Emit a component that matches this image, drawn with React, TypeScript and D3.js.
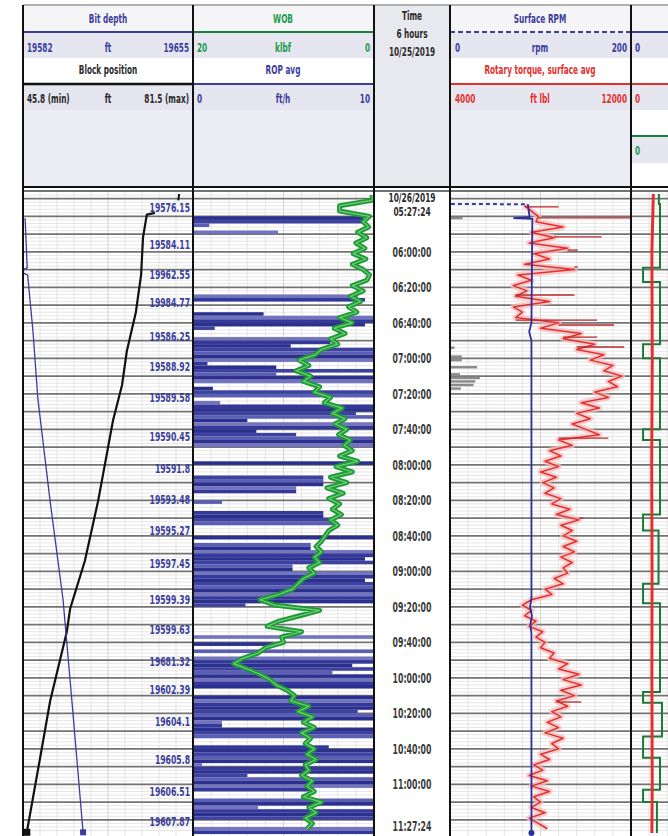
import React from "react";
import * as d3 from "d3";

const START = "05:27:24";
const END = "11:27:24";

const timeTicks = [
  "06:00:00", "06:20:00", "06:40:00", "07:00:00", "07:20:00", "07:40:00",
  "08:00:00", "08:20:00", "08:40:00", "09:00:00", "09:20:00", "09:40:00",
  "10:00:00", "10:20:00", "10:40:00", "11:00:00",
];

// Bit depth (ft), blue trace in track 1
const bitDepthTimes = ["05:41", "06:09", "06:10", "06:12", "06:13", "06:45", "07:23", "08:20", "09:16", "10:13", "11:27"];
const bitDepthFt = [19582.9, 19583.8, 19582.2, 19582.2, 19584.0, 19586.3, 19588.4, 19593.6, 19599.2, 19603.0, 19607.8];

// Block position (ft), black trace in track 1
const blockTopTimes = ["05:27:24", "05:31"];
const blockTopFt = [78.6, 78.4];
const blockTimes = ["05:38", "05:39", "05:52", "06:13", "06:34", "06:56", "07:15", "07:35", "08:20", "08:54", "09:21", "09:34", "10:13", "10:45", "11:27"];
const blockFt = [73.5, 71.8, 71.0, 70.6, 69.5, 67.6, 66.6, 64.7, 61.6, 58.8, 55.7, 55.0, 51.5, 49.4, 46.6];

// depth annotations on the right of track 1
const depthLabelTimes = [
  "05:35", "05:56", "06:13", "06:29", "06:48", "07:05", "07:22", "07:44", "08:02", "08:20",
  "08:37", "08:56", "09:16", "09:33", "09:51", "10:07", "10:25", "10:46", "11:04", "11:21",
];
const depthLabels = [
  "19576.15", "19584.11", "19962.55", "19984.77", "19586.25", "19588.92", "19589.58", "19590.45", "19591.8", "19593.48",
  "19595.27", "19597.45", "19599.39", "19599.63", "19681.32", "19602.39", "19604.1", "19605.8", "19606.51", "19607.87",
];

// ROP avg (ft/h), 2-minute bins from 05:28
const ROP_START = "05:28";
const ROP_STEP = 2;
const ropFtH = [
  0, 0, 0, 0, 0, 0,
  9.4, 9.4, 0.9, 0, 4.7, 0,
  0, 0, 0, 0, 0, 0, 0, 0, 0, 0, 0, 0, 0, 0, 0, 0,
  9.1, 9.5, 0, 0, 0, 3.9,
  10, 10, 9.5, 1.2, 0, 0,
  7.6, 7.6, 5.4, 10, 10, 10, 10, 0.8,
  4.6, 10, 4.6, 10, 10, 0, 1.1, 10, 10,
  0, 1.5, 10, 10, 9, 10, 3, 10, 10, 3.5,
  5.7, 10, 10, 10, 0, 0, 0, 0,
  10, 0, 0, 0, 7.2, 7.2, 7.2, 5.7, 5.7,
  0, 0, 1.6, 0, 0, 7.2, 7.2, 7.8, 8,
  0, 0, 0, 10, 0, 6.5, 6.5, 10, 10, 9.5, 10, 5.5, 5.5,
  10, 10, 9.5, 10, 10, 10, 10, 10, 10, 2.9,
  0, 0, 0, 0, 0, 0, 0, 0,
  10, 0, 4.4, 0, 10, 0, 10, 10,
  8.8, 10, 7.7, 10, 10, 10, 10, 0, 0,
  10, 10, 10, 10, 9.1, 10, 10, 1.6, 1.6,
  10, 10, 10, 0, 0, 7.5, 10, 10, 10, 10,
  0.5, 10, 10, 3, 10, 10, 10, 6.5, 0, 0,
  10, 10, 3.6, 10, 10, 10, 0, 0, 10, 10,
];

// WOB (klbf), 3-minute samples from 05:28
const WOB_START = "05:28";
const WOB_STEP = 3;
const wobKlbf = [
  0.2, 0.2, 3.8, 3.8, 0.5, 1.2, 0.6, 1.8, 0.8, 2.0, 1.0, 2.3, 0.9, 2.4, 1.2, 0.5,
  0.8, 2.4, 1.2, 2.6, 1.5, 2.8, 1.9, 3.8, 2.4, 4.4, 3.2, 4.8, 4.0, 5.8, 6.5, 8.3,
  7.2, 8.6, 7.0, 7.8, 6.0, 6.6, 4.8, 5.5, 3.5, 4.6, 3.2, 4.3, 3.0, 3.9, 2.6, 3.3,
  2.4, 3.8, 1.8, 4.2, 2.4, 4.8, 3.0, 5.2, 3.4, 5.0, 3.8, 4.6, 3.6, 4.8, 4.0, 5.0,
  5.4, 5.8, 6.4, 5.8, 6.6, 6.0, 7.2, 6.6, 7.8, 8.4, 9.0, 10.5, 12.6, 11.0, 6.0, 8.2,
  10.5, 11.8, 8.0, 10.2, 10.0, 12.0, 12.8, 14.5, 15.5, 14.0, 12.6, 11.5, 10.8, 9.6, 8.8, 9.2,
  7.2, 8.4, 6.8, 7.8, 6.6, 8.0, 7.0, 7.6, 6.6, 7.4, 6.4, 7.6, 7.2, 8.0, 6.8, 7.4,
  6.6, 7.8, 5.8, 7.2, 6.4, 7.6, 6.8, 7.4,
];

// Rotary torque, surface avg (ft lbf), 3-minute samples from 05:34
const TORQUE_START = "05:34";
const TORQUE_STEP = 3;
const torqueFtLbf = [
  7300, 7600, 7900, 7800, 9000, 7600, 8600, 7500, 9200, 7700, 8400, 7300, 9500, 7000, 7600, 6800,
  7400, 6900, 8400, 6800, 7200, 6900, 8800, 8000, 9800, 9000, 10400, 9600, 10800, 10200, 11200, 10800,
  11600, 11000, 11400, 10400, 11000, 9800, 10600, 9600, 10200, 9400, 10000, 10600, 8800, 9400, 8400, 8900,
  8200, 8800, 8000, 8700, 8100, 8600, 8200, 8900, 8500, 9300, 8700, 9700, 8900, 9400, 9000, 9600,
  9000, 9500, 8900, 9400, 9000, 9200, 8600, 9000, 8200, 8500, 7600, 7200, 7600, 7300, 7800, 7500,
  8100, 7800, 8200, 8000, 8600, 8400, 9200, 8800, 9700, 9000, 9800, 8900, 9500, 8700, 9200, 8500,
  8900, 8300, 8800, 8200, 9000, 8500, 8800, 8000, 8400, 7700, 8100, 7500, 8300, 7600, 8400, 7700,
  8000, 7600, 8200, 7500, 7900, 8300,
];
// short torque spikes (thin horizontal flicks)
const torqueSpikeTimes = [
  "05:34:42", "05:40:54", "05:51:36", "05:59:00", "06:08:30", "06:24:18", "06:38:24",
  "06:41:12", "06:48:00", "06:53:36", "07:44:54", "08:30:00", "10:13:36",
];
const torqueSpikes = [8800, 12000, 10700, 9650, 9650, 9500, 10500, 11250, 10500, 11700, 11000, 9900, 9800];

// Surface RPM
const rpmDashTimes = ["05:33:00", "05:33:10"];
const rpmDash = [1, 86];
const rpmTimes = [
  "05:33:10", "05:40:30", "05:41:00", "05:41:20", "06:40", "06:45", "06:50",
  "09:15", "09:20", "09:25", "09:30", "09:35", "11:27:24",
];
const rpmValues = [86, 88, 70, 91, 90, 87.5, 90, 90, 88.5, 90.5, 88.8, 90, 90];

// short grey marks at the left of track 3 (rpm scale)
const auxTimes = ["05:41", "06:54", "06:59", "07:00", "07:01", "07:05", "07:09", "07:11", "07:13", "07:15", "07:17"];
const auxRpm = [14, 5, 13, 12, 13, 30, 11, 33, 28, 26, 12];

// track 4 (cut off on the right), 0-100 scale
const t4RedTimes = ["05:27:24", "06:00", "07:00", "08:00", "09:00", "10:00", "11:00", "11:27:24"];
const t4Red = [12.4, 11.6, 11.8, 11.5, 11.7, 11.6, 11.8, 11.6];
const t4GreenTimes = [
  "05:27:24", "05:33", "06:09", "06:17", "06:52", "07:00", "07:40", "07:46", "08:28", "08:37",
  "09:07", "09:18", "10:08", "10:14", "10:33", "10:45", "11:03", "11:10", "11:27:24",
];
const t4Green = [15.5, 16.1, 6.7, 16.1, 6.7, 16.1, 6.7, 16.1, 6.7, 15.3, 6.7, 16.1, 6.7, 17.2, 6.7, 16.1, 6.7, 14.4, 14.4];

// ---- layout ----------------------------------------------------------------

const W = 668;
const H = 836;
const T1 = [23, 193];
const T2 = [193, 374];
const TC = [374, 450];
const T3 = [450, 631];
const T4 = [631, 811];
const HEAD_TOP = 5;
const HEAD_BOTTOM = 187;
const PLOT_TOP = 191;

const BLUE = "#3a3d9c";
const GREEN = "#1b9a4c";
const RED = "#e3302e";
const DARK = "#2a2a2a";
const LAV = "#e5e6f0";
const LAV2 = "#ecedf4";
const ROP_SHADES = ["#2b2f8e", "#3d42a0", "#5a5fb3", "#2b2f8e", "#7275be", "#34389a"];

const FONT = "'DejaVu Sans Condensed', 'DejaVu Sans', sans-serif";

const parseClock = d3.timeParse("%H:%M:%S");
const pt = (s: string) => parseClock(s.length === 5 ? s + ":00" : s) as Date;

type Pt = { t: Date; v: number };
const series = (times: string[], vals: number[]): Pt[] => times.map((t, i) => ({ t: pt(t), v: vals[i] }));
const sampled = (start: string, step: number, vals: number[]): Pt[] =>
  vals.map((v, i) => ({ t: d3.timeMinute.offset(pt(start), i * step), v }));

const Label = ({ x, y, children, fill = DARK, size = 12, anchor = "middle", sx = 0.68 }: any) => (
  <text
    transform={`translate(${x},${y}) scale(${sx},1)`}
    textAnchor={anchor}
    dominantBaseline="central"
    fill={fill}
    fontSize={size}
    fontWeight="bold"
    fontFamily={FONT}
  >
    {children}
  </text>
);

export default function App() {
  const y = d3.scaleTime().domain([pt(START), pt(END)]).range([194, 833]);

  const xBit = d3.scaleLinear().domain([19582, 19655]).range(T1);
  const xBlock = d3.scaleLinear().domain([45.8, 81.5]).range(T1);
  const xWob = d3.scaleLinear().domain([20, 0]).range(T2);
  const xRop = d3.scaleLinear().domain([0, 10]).range(T2);
  const xRpm = d3.scaleLinear().domain([0, 200]).range(T3);
  const xTq = d3.scaleLinear().domain([4000, 12000]).range(T3);
  const xT4 = d3.scaleLinear().domain([0, 100]).range(T4);

  const lineOf = (sx: d3.ScaleLinear<number, number>, curve: d3.CurveFactory = d3.curveLinear) =>
    d3.line<Pt>().x((d) => sx(d.v)).y((d) => y(d.t)).curve(curve);

  const bit = series(bitDepthTimes, bitDepthFt);
  const block = series(blockTimes, blockFt);
  const blockTop = series(blockTopTimes, blockTopFt);
  const rop = sampled(ROP_START, ROP_STEP, ropFtH);
  const wob = sampled(WOB_START, WOB_STEP, wobKlbf);
  const torque = sampled(TORQUE_START, TORQUE_STEP, torqueFtLbf);
  const spikes = series(torqueSpikeTimes, torqueSpikes);
  const rpm = series(rpmTimes, rpmValues);
  const rpmD = series(rpmDashTimes, rpmDash);
  const aux = series(auxTimes, auxRpm);
  const red4 = series(t4RedTimes, t4Red);
  const green4 = series(t4GreenTimes, t4Green);

  // torque value under each spike, so the flick starts on the trace
  const bisect = d3.bisector((d: Pt) => d.t).center;
  const spikeBase = (t: Date) => torque[bisect(torque, t)].v;

  const majors = d3.timeMinute.every(10)!.range(pt(START), pt(END));
  const minors = d3.timeMinute.every(2)!.range(pt(START), pt(END));
  const gridTracks = [T1, T2, T3, [T4[0], W]];

  const headerTracks = [T1, T2, T3];
  const lastBit = bit[bit.length - 1];
  const lastBlock = block[block.length - 1];
  const lastRpm = rpm[rpm.length - 1];

  return (
    <svg width={W} height={H} style={{ position: "absolute", left: 0, top: 0, background: "#fff" }}>
      <defs>
        <clipPath id="plotClip">
          <rect x={T1[0]} y={PLOT_TOP} width={W - T1[0]} height={H - PLOT_TOP} />
        </clipPath>
      </defs>

      {/* ---------- header ---------- */}
      {headerTracks.map(([a, b], i) => (
        <g key={"hb" + i}>
          <rect x={a} y={HEAD_TOP} width={b - a} height={26} fill="#f5f5f7" />
          <rect x={a} y={33} width={b - a} height={25} fill={LAV} />
          <rect x={a} y={58} width={b - a} height={25} fill="#fff" />
          <rect x={a} y={85} width={b - a} height={25} fill={LAV} />
          <rect x={a} y={110} width={b - a} height={HEAD_BOTTOM - 110} fill={LAV2} />
        </g>
      ))}
      <rect x={TC[0]} y={HEAD_TOP} width={TC[1] - TC[0]} height={HEAD_BOTTOM - HEAD_TOP} fill="#e8e9ef" />
      <rect x={T4[0]} y={HEAD_TOP} width={W - T4[0]} height={26} fill="#f5f5f7" />
      <rect x={T4[0]} y={33} width={W - T4[0]} height={25} fill={LAV} />
      <rect x={T4[0]} y={85} width={W - T4[0]} height={25} fill={LAV} />
      <rect x={T4[0]} y={137} width={W - T4[0]} height={26} fill={LAV} />

      {/* track curve lines in the header */}
      <line x1={T1[0]} x2={T1[1]} y1={32} y2={32} stroke={BLUE} strokeWidth={2} />
      <line x1={T1[0]} x2={T1[1]} y1={84} y2={84} stroke="#111" strokeWidth={2.5} />
      <line x1={T2[0]} x2={T2[1]} y1={32} y2={32} stroke="#1a7f3c" strokeWidth={2} />
      <line x1={T2[0]} x2={T2[1]} y1={84} y2={84} stroke={BLUE} strokeWidth={2} />
      <line x1={T3[0]} x2={T3[1]} y1={32} y2={32} stroke={BLUE} strokeWidth={2} strokeDasharray="5,3" />
      <line x1={T3[0]} x2={T3[1]} y1={84} y2={84} stroke={RED} strokeWidth={2} />
      <line x1={T4[0]} x2={W} y1={32} y2={32} stroke={BLUE} strokeWidth={2} />
      <line x1={T4[0]} x2={W} y1={84} y2={84} stroke={RED} strokeWidth={2} />
      <line x1={T4[0]} x2={W} y1={136} y2={136} stroke="#1a7f3c" strokeWidth={2} />

      {/* header texts */}
      <Label x={108} y={18} fill={BLUE}>Bit depth</Label>
      <Label x={27} y={47} fill={BLUE} anchor="start">19582</Label>
      <Label x={108} y={47} fill={BLUE}>ft</Label>
      <Label x={189} y={47} fill={BLUE} anchor="end">19655</Label>
      <Label x={108} y={69} fill={DARK}>Block position</Label>
      <Label x={27} y={98} fill={DARK} anchor="start">45.8 (min)</Label>
      <Label x={108} y={98} fill={DARK}>ft</Label>
      <Label x={189} y={98} fill={DARK} anchor="end">81.5 (max)</Label>

      <Label x={283} y={18} fill={GREEN}>WOB</Label>
      <Label x={197} y={47} fill={GREEN} anchor="start">20</Label>
      <Label x={283} y={47} fill={GREEN}>klbf</Label>
      <Label x={370} y={47} fill={GREEN} anchor="end">0</Label>
      <Label x={283} y={69} fill={BLUE}>ROP avg</Label>
      <Label x={197} y={98} fill={BLUE} anchor="start">0</Label>
      <Label x={283} y={98} fill={BLUE}>ft/h</Label>
      <Label x={370} y={98} fill={BLUE} anchor="end">10</Label>

      <Label x={412} y={15} fill={DARK}>Time</Label>
      <Label x={412} y={33} fill={DARK}>6 hours</Label>
      <Label x={412} y={51} fill={DARK}>10/25/2019</Label>

      <Label x={540} y={18} fill={BLUE}>Surface RPM</Label>
      <Label x={455} y={47} fill={BLUE} anchor="start">0</Label>
      <Label x={540} y={47} fill={BLUE}>rpm</Label>
      <Label x={627} y={47} fill={BLUE} anchor="end">200</Label>
      <Label x={540} y={69} fill={RED}>Rotary torque, surface avg</Label>
      <Label x={455} y={98} fill={RED} anchor="start">4000</Label>
      <Label x={540} y={98} fill={RED}>ft lbl</Label>
      <Label x={627} y={98} fill={RED} anchor="end">12000</Label>

      <Label x={635} y={47} fill={BLUE} anchor="start">0</Label>
      <Label x={635} y={98} fill={RED} anchor="start">0</Label>
      <Label x={635} y={150} fill={GREEN} anchor="start">0</Label>

      {/* ---------- plot ---------- */}
      <g clipPath="url(#plotClip)">
        {/* grid */}
        {gridTracks.map(([a, b], i) => {
          const step = i === 0 ? (T1[1] - T1[0]) / 10 : (T2[1] - T2[0]) / 10;
          return (
            <g key={"g" + i}>
              {minors.map((t, j) => (
                <line key={j} x1={a} x2={b} y1={y(t)} y2={y(t)} stroke="#e0e0e0" strokeWidth={0.8} />
              ))}
              {d3.range(1, 10).map((k) => {
                const x = a + step * k;
                return x < b ? (
                  <line key={"v" + k} x1={x} x2={x} y1={PLOT_TOP} y2={H} stroke={k === 5 ? "#cfcfcf" : "#e2e2e2"} strokeWidth={0.9} />
                ) : null;
              })}
              {majors.map((t, j) => (
                <line key={"m" + j} x1={a} x2={b} y1={y(t)} y2={y(t)} stroke="#747474" strokeWidth={1.8} />
              ))}
            </g>
          );
        })}

        {/* ROP bars */}
        {rop.map((d, i) => {
          if (d.v <= 0) return null;
          const y0 = y(d.t);
          const y1 = y(d3.timeMinute.offset(d.t, ROP_STEP));
          return (
            <rect key={"r" + i} x={xRop(0)} y={y0} width={xRop(d.v) - xRop(0)} height={y1 - y0}
              fill={ROP_SHADES[i % ROP_SHADES.length]} />
          );
        })}

        {/* WOB */}
        <path d={lineOf(xWob)(wob) ?? ""} fill="none" stroke="#1f9a3b" strokeWidth={5} strokeLinejoin="round" />
        <path d={lineOf(xWob)(wob) ?? ""} fill="none" stroke="#6fd06f" strokeWidth={1.2} strokeLinejoin="round" />

        {/* block position and bit depth */}
        <path d={lineOf(xBlock)(blockTop) ?? ""} fill="none" stroke="#111" strokeWidth={2} />
        <path d={lineOf(xBlock)(block) ?? ""} fill="none" stroke="#111" strokeWidth={2.2} />
        <path d={lineOf(xBit)(bit) ?? ""} fill="none" stroke={BLUE} strokeWidth={1.3} />
        <rect x={xBlock(lastBlock.v) - 3.5} y={y(lastBlock.t) - 3.5} width={7} height={7} fill="#111" />
        <rect x={xBit(lastBit.v) - 3} y={y(lastBit.t) - 3} width={6} height={6} fill={BLUE} />

        {depthLabelTimes.map((t, i) => (
          <Label key={"dl" + i} x={190} y={y(pt(t))} anchor="end" fill={BLUE} size={13} sx={0.66}>
            {depthLabels[i]}
          </Label>
        ))}

        {/* track 3 */}
        {aux.map((d, i) => (
          <rect key={"a" + i} x={xRpm(0)} y={y(d.t) - 1.2} width={xRpm(d.v) - xRpm(0)} height={2.4} fill="#8a8a8a" />
        ))}
        <path d={lineOf(xTq)(torque) ?? ""} fill="none" stroke="#f6bcbc" strokeWidth={6} strokeLinejoin="round" opacity={0.75} />
        <path d={lineOf(xTq)(torque) ?? ""} fill="none" stroke={RED} strokeWidth={1.5} strokeLinejoin="round" />
        {spikes.map((d, i) => (
          <line key={"s" + i} x1={xTq(spikeBase(d.t))} x2={xTq(d.v)} y1={y(d.t)} y2={y(d.t)} stroke="#b8262a" strokeWidth={1.3} />
        ))}
        <path d={lineOf(xRpm)(rpmD) ?? ""} fill="none" stroke={BLUE} strokeWidth={2} strokeDasharray="4,3" />
        <path d={lineOf(xRpm)(rpm) ?? ""} fill="none" stroke="#2a2ea0" strokeWidth={1.8} />
        <circle cx={xRpm(lastRpm.v)} cy={y(lastRpm.t)} r={3} fill="#2a2ea0" />

        {/* track 4 */}
        <path d={lineOf(xT4, d3.curveStepBefore)(green4) ?? ""} fill="none" stroke="#1b7a34" strokeWidth={2} />
        <path d={lineOf(xT4)(red4) ?? ""} fill="none" stroke={RED} strokeWidth={3} />
      </g>

      {/* time column */}
      <rect x={TC[0]} y={PLOT_TOP} width={TC[1] - TC[0]} height={H - PLOT_TOP} fill="#fff" />
      <Label x={412} y={198} size={13} sx={0.64}>10/26/2019</Label>
      <Label x={412} y={212} size={13} sx={0.64}>05:27:24</Label>
      {timeTicks.map((t) => (
        <Label key={t} x={412} y={y(pt(t))} size={14} sx={0.62} fill="#3a3a3a">{t}</Label>
      ))}
      <Label x={412} y={826} size={14} sx={0.62} fill="#3a3a3a">11:27:24</Label>

      {/* frame */}
      <line x1={T1[0]} x2={W} y1={HEAD_TOP} y2={HEAD_TOP} stroke="#999" strokeWidth={1.5} />
      <line x1={T1[0]} x2={W} y1={HEAD_BOTTOM} y2={HEAD_BOTTOM} stroke="#111" strokeWidth={2} />
      <line x1={T1[0]} x2={W} y1={PLOT_TOP} y2={PLOT_TOP} stroke="#444" strokeWidth={1.5} />
      {[T1[0], T2[0], TC[0], T3[0], T4[0]].map((x) => (
        <line key={"f" + x} x1={x} x2={x} y1={HEAD_TOP} y2={H} stroke="#111" strokeWidth={2} />
      ))}
    </svg>
  );
}
